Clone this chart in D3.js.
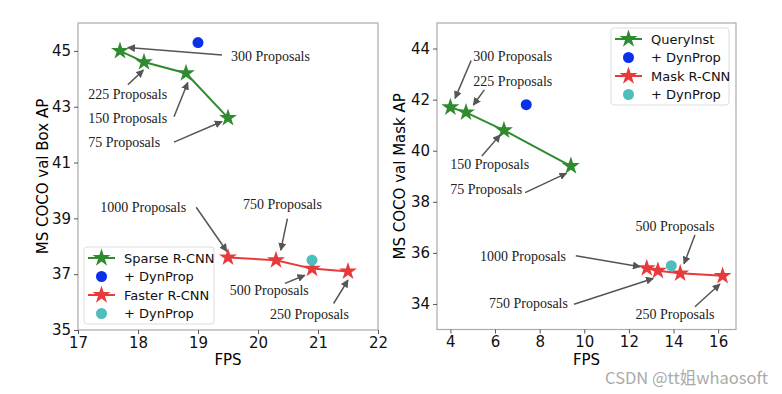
<!DOCTYPE html>
<html>
<head>
<meta charset="utf-8">
<script src="https://cdn.jsdelivr.net/npm/d3@7"></script>
<style>
  body { margin: 0; background: #fff; }
  svg { display: block; }
  .tick text { font-family: "DejaVu Sans", sans-serif; font-size: 15px; fill: #111; }
  .ann { font-family: "Liberation Serif", "DejaVu Serif", serif; font-size: 14px; fill: #222; }
  .leg { font-family: "DejaVu Sans", sans-serif; font-size: 13px; fill: #111; }
</style>
</head>
<body>
<svg id="chart" width="782" height="394"></svg>
<script>
// ---- left panel: box AP vs FPS
var sparseFps = [17.7, 18.1, 18.8, 19.5];
var sparseAP  = [45.0, 44.6, 44.2, 42.6];
var sparseDyn = [19.0, 45.3];
var fasterFps = [19.5, 20.3, 20.9, 21.5];
var fasterAP  = [37.6, 37.5, 37.2, 37.1];
var fasterDyn = [20.9, 37.5];
var boxXTicks = [17, 18, 19, 20, 21, 22];
var boxYTicks = [35, 37, 39, 41, 43, 45];

// ---- right panel: mask AP vs FPS
var queryFps = [4.0, 4.7, 6.4, 9.4];
var queryAP  = [41.7, 41.5, 40.8, 39.4];
var queryDyn = [7.4, 41.8];
var maskFps  = [12.8, 13.3, 14.3, 16.2];
var maskAP   = [35.4, 35.3, 35.2, 35.1];
var maskDyn  = [13.9, 35.5];
var maskXTicks = [4, 6, 8, 10, 12, 14, 16];
var maskYTicks = [34, 36, 38, 40, 42, 44];

// annotations: label, text pos, arrow start, arrow tip (all data units)
var boxNotes = [
  ["300 Proposals", 19.55, 44.82, 19.40, 44.85, 17.83, 45.12],
  ["225 Proposals", 17.17, 43.47, 17.83, 43.79, 18.09, 44.31],
  ["150 Proposals", 17.17, 42.60, 18.60, 42.64, 18.83, 43.87],
  ["75 Proposals",  17.17, 41.73, 18.60, 41.73, 19.40, 42.47],
  ["1000 Proposals", 17.37, 39.40, 18.97, 39.40, 19.48, 37.82],
  ["750 Proposals", 19.75, 39.52, 20.49, 38.99, 20.38, 37.86],
  ["500 Proposals", 19.53, 36.43, 20.45, 36.67, 20.78, 36.96],
  ["250 Proposals", 20.20, 35.57, 21.26, 35.95, 21.50, 36.79]
];
var maskNotes = [
  ["300 Proposals", 5.03, 43.72, 4.93, 43.53, 4.21, 42.05],
  ["225 Proposals", 5.03, 42.74, 5.52, 42.38, 5.03, 41.79],
  ["150 Proposals", 3.99, 39.47, 5.41, 39.79, 6.23, 40.62],
  ["75 Proposals",  3.99, 38.50, 7.35, 38.36, 9.21, 39.12],
  ["1000 Proposals", 5.33, 35.88, 9.62, 35.89, 12.50, 35.46],
  ["500 Proposals", 12.30, 37.05, 14.96, 36.70, 14.47, 35.57],
  ["750 Proposals", 5.73, 34.05, 9.54, 33.99, 13.09, 35.00],
  ["250 Proposals", 12.30, 33.61, 14.96, 33.89, 16.08, 34.78]
];

var GREEN = "#2e8b2e", BLUE = "#0a30e8", RED = "#e83a3a", CYAN = "#4dbdbd";

var svg = d3.select("#chart");

svg.append("defs").append("marker")
   .attr("id", "head")
   .attr("viewBox", "0 0 10 10")
   .attr("refX", 9).attr("refY", 5)
   .attr("markerWidth", 8).attr("markerHeight", 8)
   .attr("markerUnits", "userSpaceOnUse")
   .attr("orient", "auto")
   .append("path")
   .attr("d", "M0,0 L10,5 L0,10 z")
   .attr("fill", "#555");

function drawPanel(p) {
    var x = d3.scaleLinear().domain(p.xDom).range([p.left, p.right]);
    var y = d3.scaleLinear().domain(p.yDom).range([p.bottom, p.top]);
    var g = svg.append("g");

    g.append("rect")
     .attr("x", p.left).attr("y", p.top)
     .attr("width", p.right - p.left).attr("height", p.bottom - p.top)
     .attr("fill", "none").attr("stroke", "#aaa").attr("stroke-width", 1.2);

    var xa = g.append("g").attr("transform", "translate(0," + p.bottom + ")")
              .call(d3.axisBottom(x).tickValues(p.xTicks).tickFormat(d3.format("d"))
                      .tickSize(4).tickPadding(3));
    var ya = g.append("g").attr("transform", "translate(" + p.left + ",0)")
              .call(d3.axisLeft(y).tickValues(p.yTicks).tickFormat(d3.format("d"))
                      .tickSize(4).tickPadding(3));
    [xa, ya].forEach(function(a) {
        a.select(".domain").remove();
        a.selectAll(".tick line").attr("stroke", "#555");
    });

    g.append("text")
     .attr("x", (p.left + p.right) / 2).attr("y", p.bottom + 35)
     .attr("text-anchor", "middle")
     .attr("font-family", "DejaVu Sans, sans-serif").attr("font-size", 15)
     .text("FPS");
    g.append("text")
     .attr("transform", "translate(" + p.yLabelX + "," + (p.top + p.bottom) / 2 + ") rotate(-90)")
     .attr("text-anchor", "middle")
     .attr("font-family", "DejaVu Sans, sans-serif").attr("font-size", 15)
     .text(p.yLabel);

    var line = d3.line().x(function(d) { return x(d[0]); }).y(function(d) { return y(d[1]); });
    var star = d3.symbol().type(d3.symbolStar).size(100);

    p.series.forEach(function(s) {
        var pts = d3.zip(s.fps, s.ap);
        g.append("path").attr("d", line(pts))
         .attr("fill", "none").attr("stroke", s.color).attr("stroke-width", 2);
        g.selectAll(null).data(pts).join("path")
         .attr("d", star)
         .attr("transform", function(d) { return "translate(" + x(d[0]) + "," + y(d[1]) + ")"; })
         .attr("fill", s.color);
        g.append("circle")
         .attr("cx", x(s.dyn[0])).attr("cy", y(s.dyn[1])).attr("r", 5.5)
         .attr("fill", s.dynColor);
    });

    p.notes.forEach(function(n) {
        g.append("text").attr("class", "ann")
         .attr("x", x(n[1])).attr("y", y(n[2])).attr("dy", "0.35em")
         .text(n[0]);
        g.append("line")
         .attr("x1", x(n[3])).attr("y1", y(n[4]))
         .attr("x2", x(n[5])).attr("y2", y(n[6]))
         .attr("stroke", "#555").attr("stroke-width", 1.5)
         .attr("marker-end", "url(#head)");
    });

    // legend
    var L = p.legend;
    var lg = g.append("g").attr("transform", "translate(" + L.x + "," + L.y + ")");
    lg.append("rect").attr("width", L.w).attr("height", 77).attr("rx", 3)
      .attr("fill", "#fff").attr("fill-opacity", 0.85)
      .attr("stroke", "#ddd");
    L.items.forEach(function(it, i) {
        var cy = 11 + i * 18.5;
        if (it[1] == "line") {
            lg.append("line").attr("x1", 4).attr("x2", 31).attr("y1", cy).attr("y2", cy)
              .attr("stroke", it[2]).attr("stroke-width", 2);
            lg.append("path").attr("d", star)
              .attr("transform", "translate(17.5," + cy + ")").attr("fill", it[2]);
        } else {
            lg.append("circle").attr("cx", 17.5).attr("cy", cy).attr("r", 5.5).attr("fill", it[2]);
        }
        lg.append("text").attr("class", "leg")
          .attr("x", 40).attr("y", cy).attr("dy", "0.35em").text(it[0]);
    });
}

drawPanel({
    left: 78, right: 378, top: 23, bottom: 330,
    xDom: [17, 22], yDom: [35, 46],
    xTicks: boxXTicks, yTicks: boxYTicks,
    yLabel: "MS COCO val Box AP", yLabelX: 48,
    series: [
        { fps: sparseFps, ap: sparseAP, dyn: sparseDyn, color: GREEN, dynColor: BLUE },
        { fps: fasterFps, ap: fasterAP, dyn: fasterDyn, color: RED, dynColor: CYAN }
    ],
    notes: boxNotes,
    legend: { x: 84, y: 247, w: 130, items: [
        ["Sparse R-CNN", "line", GREEN], ["+ DynProp", "dot", BLUE],
        ["Faster R-CNN", "line", RED], ["+ DynProp", "dot", CYAN] ] }
});

drawPanel({
    left: 437, right: 736, top: 23, bottom: 329.5,
    xDom: [3.4, 16.8], yDom: [33, 45],
    xTicks: maskXTicks, yTicks: maskYTicks,
    yLabel: "MS COCO val Mask AP", yLabelX: 405,
    series: [
        { fps: queryFps, ap: queryAP, dyn: queryDyn, color: GREEN, dynColor: BLUE },
        { fps: maskFps, ap: maskAP, dyn: maskDyn, color: RED, dynColor: CYAN }
    ],
    notes: maskNotes,
    legend: { x: 611, y: 28, w: 118, items: [
        ["QueryInst", "line", GREEN], ["+ DynProp", "dot", BLUE],
        ["Mask R-CNN", "line", RED], ["+ DynProp", "dot", CYAN] ] }
});

svg.append("text")
   .attr("x", 768).attr("y", 384).attr("text-anchor", "end")
   .attr("font-family", "Noto Sans CJK SC, DejaVu Sans, sans-serif").attr("font-size", 16.5)
   .attr("fill", "#aaa")
   .text("CSDN @tt姐whaosoft");
</script>
</body>
</html>
